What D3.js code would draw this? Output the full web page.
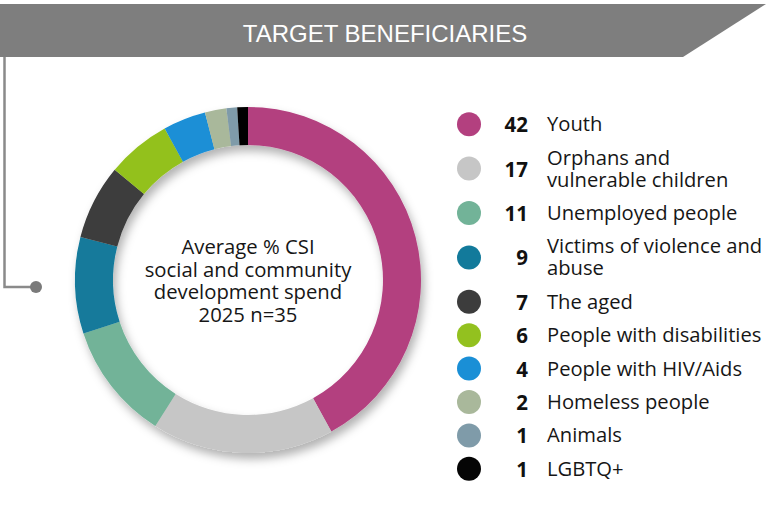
<!DOCTYPE html>
<html>
<head>
<meta charset="utf-8">
<script src="https://cdn.jsdelivr.net/npm/d3@7"></script>
<style>
  body { margin: 0; background: #fff; }
  svg { display: block; }
</style>
</head>
<body>
<svg id="chart" width="768" height="508"></svg>
<script>
const categories = [
  ['Youth'],
  ['Orphans and', 'vulnerable children'],
  ['Unemployed people'],
  ['Victims of violence and', 'abuse'],
  ['The aged'],
  ['People with disabilities'],
  ['People with HIV/Aids'],
  ['Homeless people'],
  ['Animals'],
  ['LGBTQ+']
];
const values = [42, 17, 11, 9, 7, 6, 4, 2, 1, 1];
const colors = ['#b3407f', '#c6c6c6', '#72b398', '#127a9b', '#3c3c3c',
                '#93c11f', '#1a8fd6', '#a9b89b', '#7f9ba9', '#050505'];
const title = 'TARGET BENEFICIARIES';
const centerLines = ['Average % CSI', 'social and community', 'development spend', '2025 n=35'];

const svg = d3.select('#chart');
const font = '"Open Sans", sans-serif';

const data = values.map((v, i) => ({ value: v, label: categories[i], color: colors[i] }));

// header band
svg.append('path')
  .attr('d', 'M0,4 L766,4 L683,57 L0,57 Z')
  .attr('fill', '#7e7e7e');

svg.append('text')
  .attr('x', 385)
  .attr('y', 42)
  .attr('text-anchor', 'middle')
  .attr('fill', '#fff')
  .style('font-family', '"Liberation Sans", sans-serif')
  .style('font-size', '24px')
  .text(title);

// connector on the left
svg.append('path')
  .attr('d', 'M4.5,57 L4.5,287 L36,287')
  .attr('fill', 'none')
  .attr('stroke', '#8a8a8a')
  .attr('stroke-width', 2.5);

svg.append('circle')
  .attr('cx', 36)
  .attr('cy', 287)
  .attr('r', 6)
  .attr('fill', '#7a7a7a');

// donut
const defs = svg.append('defs');
const shadow = defs.append('filter')
  .attr('id', 'shadow')
  .attr('x', '-20%').attr('y', '-20%')
  .attr('width', '140%').attr('height', '140%');
shadow.append('feDropShadow')
  .attr('dx', 3)
  .attr('dy', 6)
  .attr('stdDeviation', 5)
  .attr('flood-color', '#000')
  .attr('flood-opacity', 0.3);

const cx = 248, cy = 280;
const outerR = 173, innerR = 135;

const pie = d3.pie()
  .value(d => d.value)
  .sort(null);

const arc = d3.arc()
  .innerRadius(innerR)
  .outerRadius(outerR);

const donut = svg.append('g')
  .attr('transform', `translate(${cx},${cy})`);

donut.append('g')
  .attr('filter', 'url(#shadow)')
  .selectAll('path')
  .data(pie(data))
  .enter()
  .append('path')
  .attr('d', arc)
  .attr('fill', d => d.data.color);

donut.append('text')
  .attr('text-anchor', 'middle')
  .attr('fill', '#161616')
  .style('font-family', font)
  .style('font-size', '20.3px')
  .selectAll('tspan')
  .data(centerLines)
  .enter()
  .append('tspan')
  .attr('x', 0)
  .attr('y', (d, i) => -26 + i * 22.7)
  .text(d => d);

// legend
const rowStep = 33.4, lineStep = 22;
let rowTop = 107.5;
const rows = data.map(d => {
  const h = rowStep + lineStep * (d.label.length - 1);
  const y = rowTop + h / 2;
  rowTop += h;
  return Object.assign({ y }, d);
});

const legend = svg.append('g')
  .style('font-family', font);

const row = legend.selectAll('g')
  .data(rows)
  .enter()
  .append('g')
  .attr('transform', d => `translate(0,${d.y})`);

row.append('circle')
  .attr('cx', 469)
  .attr('cy', 0)
  .attr('r', 12)
  .attr('fill', d => d.color);

row.append('text')
  .attr('x', 528)
  .attr('y', 8)
  .attr('text-anchor', 'end')
  .attr('fill', '#111')
  .style('font-size', '20.5px')
  .style('font-weight', 'bold')
  .text(d => d.value);

row.append('text')
  .attr('fill', '#161616')
  .style('font-size', '20.2px')
  .selectAll('tspan')
  .data(d => d.label.map((t, i, a) => ({ t, dy: (i - (a.length - 1) / 2) * lineStep })))
  .enter()
  .append('tspan')
  .attr('x', 547)
  .attr('y', d => d.dy + 7)
  .text(d => d.t);
</script>
</body>
</html>
